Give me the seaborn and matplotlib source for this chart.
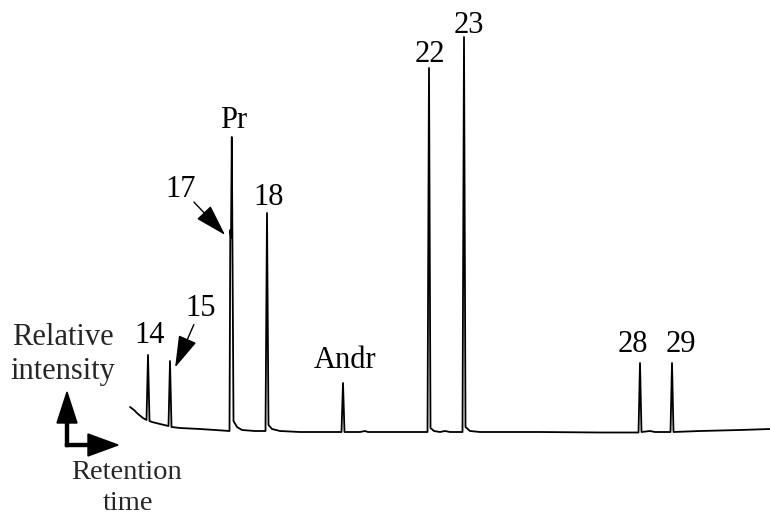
import numpy as np
import pandas as pd
import matplotlib
matplotlib.use("Agg")
import matplotlib.pyplot as plt
import seaborn as sns

# chromatogram trace (retention in px-like units, signal above baseline)
trace_time = [130, 134, 138, 143, 146.5, 148, 149.5, 152, 160, 168.5, 170, 171.5, 180, 200, 215,
              229.5, 230.3, 231.0, 231.8, 233.5, 237, 242, 255, 265.5, 267, 268.5, 272, 280, 300,
              330, 341.5, 343, 344.5, 360, 365, 368, 427.5, 429, 430.5, 434, 440, 445, 450,
              462.5, 464, 465.5, 470, 480, 540, 600, 638.5, 640, 641.5, 650, 655, 670.5, 672,
              673.5, 700, 740, 770]
trace_signal = [26, 23, 19, 15, 13, 78, 12, 11, 9, 7, 72, 6, 5, 4, 3,
                2, 203, 195, 296, 12, 6, 3, 2, 2, 220, 8, 4, 2, 1,
                1, 1, 50, 1, 1, 2, 1, 1, 365, 5, 2, 1, 2, 1,
                1, 396, 6, 2, 1, 1, 0.5, 0.5, 70, 1, 2, 1, 1, 70,
                1, 2, 3, 4]

# peak labels
peak_names = ["14", "15", "17", "Pr", "18", "Andr", "22", "23", "28", "29"]
label_x = [150, 201, 181, 234, 269, 345, 430, 469, 633, 681]
label_base = [90, 117, 236, 305, 228, 65, 371, 400, 81, 81]

df = pd.DataFrame({"time": trace_time, "signal": trace_signal})

sns.set_theme(style="white")
plt.rcParams["font.family"] = ["Liberation Serif", "DejaVu Serif"]

fig = plt.figure(figsize=(7.7, 5.17), dpi=100)
ax = fig.add_axes([0, 0, 1, 1])

sns.lineplot(data=df, x="time", y="signal", sort=False, estimator=None,
             color="black", linewidth=1.3, ax=ax)

fs = 22
for name, x, y in zip(peak_names, label_x, label_base):
    ax.text(x, y, name, fontsize=fs, ha="center", va="baseline", color="black")

# pointer arrows for 15 and 17
ax.annotate("", xy=(174, 63), xytext=(195, 111),
            arrowprops=dict(arrowstyle="-|>,head_length=1.0,head_width=0.3",
                            mutation_scale=20, lw=1, color="black"))
ax.annotate("", xy=(227, 196), xytext=(192, 233),
            arrowprops=dict(arrowstyle="-|>,head_length=1.0,head_width=0.3",
                            mutation_scale=20, lw=1, color="black"))

# axis legend arrows
ax.arrow(67, -13.5, 0, 54.5, width=3, head_width=20, head_length=31,
         length_includes_head=True, color="black")
ax.arrow(65.5, -12, 52.5, 0, width=3, head_width=22, head_length=30,
         length_includes_head=True, color="black")

ax.text(63, 88, "Relative", fontsize=fs, ha="center", va="baseline")
ax.text(63, 54, "intensity", fontsize=fs, ha="center", va="baseline")
ax.text(127, -46, "Retention", fontsize=20.5, ha="center", va="baseline")
ax.text(128, -77, "time", fontsize=20.5, ha="center", va="baseline")

ax.set_xlim(0, 770)
ax.set_ylim(-84, 433)
ax.axis("off")

fig.savefig("out.png", dpi=100, facecolor="white")
